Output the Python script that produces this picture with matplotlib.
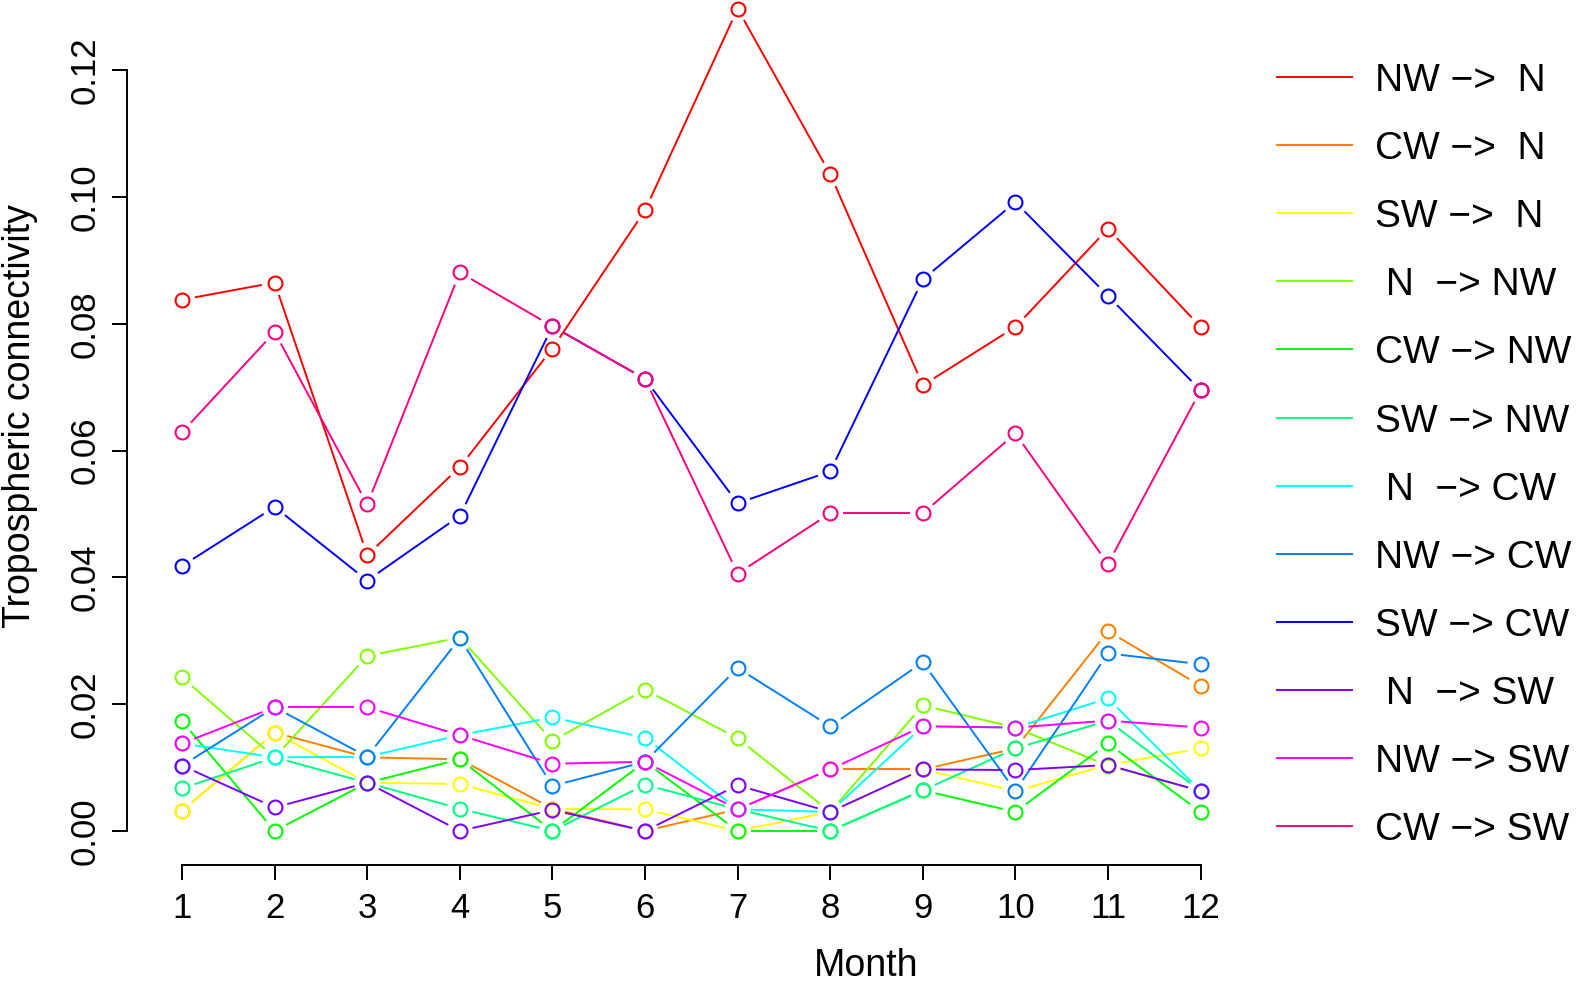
import numpy as np
import matplotlib
matplotlib.use("Agg")
import matplotlib.pyplot as plt
from matplotlib.collections import LineCollection
from matplotlib.lines import Line2D

plt.rcParams['font.family'] = ['Liberation Sans', 'DejaVu Sans']

#----------------------- data -----------------------#
months = list(range(1, 13))
labels = ["NW \u2212>  N", "CW \u2212>  N", "SW \u2212>  N", " N  \u2212> NW", "CW \u2212> NW", "SW \u2212> NW",
          " N  \u2212> CW", "NW \u2212> CW", "SW \u2212> CW", " N  \u2212> SW", "NW \u2212> SW", "CW \u2212> SW"]

nw_n  = [0.0838, 0.0865, 0.0435, 0.0574, 0.0761, 0.0979, 0.1297, 0.1036, 0.0703, 0.0795, 0.0950, 0.0795]
cw_n  = [0.0032, 0.0155, 0.0116, 0.0113, 0.0035, 0.0000, 0.0034, 0.0097, 0.0097, 0.0130, 0.0315, 0.0229]
sw_n  = [0.0032, 0.0155, 0.0076, 0.0074, 0.0035, 0.0034, 0.0000, 0.0030, 0.0097, 0.0063, 0.0104, 0.0130]
n_nw  = [0.0242, 0.0116, 0.0276, 0.0305, 0.0142, 0.0223, 0.0146, 0.0030, 0.0198, 0.0163, 0.0103, 0.0063]
cw_nw = [0.0173, 0.0000, 0.0076, 0.0113, 0.0000, 0.0109, 0.0000, 0.0000, 0.0064, 0.0030, 0.0138, 0.0030]
sw_nw = [0.0067, 0.0116, 0.0076, 0.0035, 0.0000, 0.0073, 0.0034, 0.0000, 0.0064, 0.0130, 0.0174, 0.0063]
n_cw  = [0.0138, 0.0116, 0.0117, 0.0151, 0.0179, 0.0147, 0.0034, 0.0030, 0.0165, 0.0163, 0.0209, 0.0063]
nw_cw = [0.0103, 0.0195, 0.0117, 0.0304, 0.0071, 0.0109, 0.0257, 0.0165, 0.0266, 0.0063, 0.0280, 0.0263]
sw_cw = [0.0418, 0.0511, 0.0395, 0.0497, 0.0796, 0.0713, 0.0517, 0.0567, 0.0870, 0.0992, 0.0844, 0.0695]
n_sw  = [0.0103, 0.0037, 0.0076, 0.0000, 0.0033, 0.0000, 0.0072, 0.0030, 0.0097, 0.0096, 0.0104, 0.0063]
nw_sw = [0.0138, 0.0195, 0.0195, 0.0151, 0.0106, 0.0109, 0.0034, 0.0097, 0.0165, 0.0163, 0.0174, 0.0163]
cw_sw = [0.0629, 0.0787, 0.0515, 0.0881, 0.0796, 0.0713, 0.0406, 0.0501, 0.0501, 0.0627, 0.0421, 0.0695]

series = [nw_n, cw_n, sw_n, n_nw, cw_nw, sw_nw, n_cw, nw_cw, sw_cw, n_sw, nw_sw, cw_sw]
# rainbow(12) as in R
colors = ["#FF0000", "#FF8000", "#FFFF00", "#80FF00", "#00FF00", "#00FF80",
          "#00FFFF", "#0080FF", "#0000FF", "#8000FF", "#FF00FF", "#FF0080"]

#----------------------- figure ---------------------#
W, H = 1579, 983
fig = plt.figure(figsize=(W / 100, H / 100), dpi=100)
# plot region like R, xlim=c(1,16) leaves room for the legend
ax = fig.add_axes([126.5 / W, (H - 864.5) / H, 1500.0 / W, 890.0 / H])
ax.set_xlim(0.4, 16.6)
ax.set_ylim(-0.0053, 0.1351)
ax.patch.set_alpha(0)

for s in ['top', 'right']:
    ax.spines[s].set_visible(False)
ax.spines['left'].set_bounds(0, 0.12)
ax.spines['bottom'].set_bounds(1, 12)
for s in ['left', 'bottom']:
    ax.spines[s].set_linewidth(1.4)

ax.set_xticks(months)
ax.set_xticklabels([str(m) for m in months])
yt = [0.00, 0.02, 0.04, 0.06, 0.08, 0.10, 0.12]
ax.set_yticks(yt)
ax.set_yticklabels(["%.2f" % v for v in yt], rotation=90, va='center')
ax.tick_params(axis='both', length=11, width=1.4, labelsize=25)
ax.tick_params(axis='x', pad=9)
ax.tick_params(axis='y', pad=7)

# type="b": lines with gaps round the points
gap = 13.0
inv = ax.transData.inverted()
for i, (vals, col) in enumerate(zip(series, colors)):
    pts = ax.transData.transform(np.column_stack([months, vals]))
    segs = []
    for p, q in zip(pts[:-1], pts[1:]):
        d = q - p
        L = np.hypot(d[0], d[1])
        if L <= 2 * gap:
            continue
        u = d / L
        segs.append(inv.transform(np.array([p + u * gap, q - u * gap])))
    ax.add_collection(LineCollection(segs, colors=col, linewidths=1.4, zorder=2 + i))
    ax.plot(months, vals, linestyle='none', marker='o', markersize=10,
            markerfacecolor='none', markeredgecolor=col, markeredgewidth=1.5,
            zorder=2 + i, clip_on=False)

fig.text(866 / W, 1 - 976 / H, "Month", ha='center', va='baseline', fontsize=27)
fig.text(20 / W, 1 - 416 / H, "Tropospheric connectivity", rotation=90,
         ha='center', va='center', fontsize=27)

#----------------------- legend ---------------------#
for k, (lab, col) in enumerate(zip(labels, colors)):
    yy = 1 - (77 + 68.1 * k) / H
    fig.add_artist(Line2D([1277 / W, 1352 / W], [yy, yy], color=col, linewidth=1.4,
                          transform=fig.transFigure))
    fig.text(1375 / W, yy, lab, ha='left', va='center_baseline', fontsize=28)

fig.savefig("out.png", dpi=100)
